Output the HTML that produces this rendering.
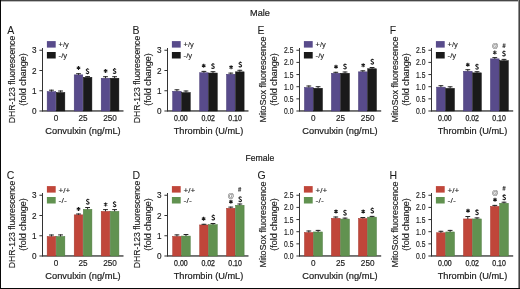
<!DOCTYPE html>
<html><head><meta charset="utf-8"><style>
html,body{margin:0;padding:0;background:#fff;}
body{width:520px;height:289px;overflow:hidden;}
svg{display:block;}
#w{width:520px;height:289px;will-change:transform;}
text{font-family:"Liberation Sans", sans-serif;fill:#1a1a1a;stroke:#1a1a1a;stroke-width:0.2px;}
</style></head><body><div id="w">
<svg width="520" height="289" viewBox="0 0 520 289">
<rect x="0" y="0" width="520" height="289" fill="#fff"/>
<text x="260" y="15.7" font-size="9.8" text-anchor="middle" textLength="19.8" lengthAdjust="spacingAndGlyphs">Male</text>
<text x="259.9" y="160.7" font-size="9.8" text-anchor="middle" textLength="28.8" lengthAdjust="spacingAndGlyphs">Female</text>
<text x="7.2" y="33.6" font-size="10.5" text-anchor="start" style="stroke-width:0.05px">A</text>
<text transform="translate(15.3,79.5) rotate(-90)" font-size="9" text-anchor="middle" textLength="87.5" lengthAdjust="spacingAndGlyphs" style="stroke-width:0.14px">DHR-123 fluorescence</text>
<text transform="translate(26.0,79.5) rotate(-90)" font-size="9" text-anchor="middle" textLength="52.5" lengthAdjust="spacingAndGlyphs" style="stroke-width:0.14px">(fold change)</text>
<rect x="42" y="48" width="1" height="63.5" fill="#333"/>
<rect x="42" y="110.3" width="81.5" height="1.3" fill="#333"/>
<rect x="39.4" y="110.5" width="2.6" height="1" fill="#333"/>
<text x="36.5" y="114.0" font-size="8.2" text-anchor="end"  style="stroke-width:0.15px">0</text>
<rect x="39.4" y="90.25" width="2.6" height="1" fill="#333"/>
<text x="36.5" y="93.75" font-size="8.2" text-anchor="end"  style="stroke-width:0.15px">1</text>
<rect x="39.4" y="70.0" width="2.6" height="1" fill="#333"/>
<text x="36.5" y="73.5" font-size="8.2" text-anchor="end"  style="stroke-width:0.15px">2</text>
<rect x="39.4" y="49.75" width="2.6" height="1" fill="#333"/>
<text x="36.5" y="53.25" font-size="8.2" text-anchor="end"  style="stroke-width:0.15px">3</text>
<text x="56.0" y="121.0" font-size="8.2" text-anchor="middle" style="stroke-width:0.15px">0</text>
<text x="83.0" y="121.0" font-size="8.2" text-anchor="middle" style="stroke-width:0.15px">25</text>
<text x="110.1" y="121.0" font-size="8.2" text-anchor="middle" style="stroke-width:0.15px">250</text>
<text x="83" y="134.2" font-size="9.6" text-anchor="middle" textLength="75.3" lengthAdjust="spacingAndGlyphs">Convulxin (ng/mL)</text>
<rect x="46.9" y="41.1" width="8.8" height="6.5" fill="#584b8b"/>
<rect x="46.9" y="52" width="8.8" height="6.5" fill="#1a1a1a"/>
<text x="58.6" y="47.4" font-size="8" text-anchor="start" textLength="10.2" lengthAdjust="spacingAndGlyphs" style="stroke-width:0.1px">+/y</text>
<text x="58.6" y="57.6" font-size="8" text-anchor="start" textLength="8.6" lengthAdjust="spacingAndGlyphs" style="stroke-width:0.1px">-/y</text>
<rect x="47.15" y="91.65" width="8.6" height="19.349999999999994" fill="#584b8b" stroke="#463a74" stroke-width="0.5"/>
<rect x="56.25" y="92.55" width="8.6" height="18.450000000000003" fill="#1a1a1a" stroke="#111" stroke-width="0.5"/>
<rect x="50.949999999999996" y="89.7" width="1" height="1.9500000000000028" fill="#262626"/>
<rect x="49.05" y="89.7" width="4.8" height="1" fill="#262626"/>
<rect x="60.05" y="90.5" width="1" height="2.049999999999997" fill="#262626"/>
<rect x="58.15" y="90.5" width="4.8" height="1" fill="#262626"/>
<rect x="74.2" y="74.85" width="8.6" height="36.150000000000006" fill="#584b8b" stroke="#463a74" stroke-width="0.5"/>
<rect x="83.3" y="77.35" width="8.6" height="33.650000000000006" fill="#1a1a1a" stroke="#111" stroke-width="0.5"/>
<rect x="78.0" y="73.2" width="1" height="1.6499999999999915" fill="#262626"/>
<rect x="76.1" y="73.2" width="4.8" height="1" fill="#262626"/>
<rect x="87.1" y="76.1" width="1" height="1.25" fill="#262626"/>
<rect x="85.19999999999999" y="76.1" width="4.8" height="1" fill="#262626"/>
<rect x="101.2" y="78.25" width="8.6" height="32.75" fill="#584b8b" stroke="#463a74" stroke-width="0.5"/>
<rect x="110.3" y="78.25" width="8.6" height="32.75" fill="#1a1a1a" stroke="#111" stroke-width="0.5"/>
<rect x="105.0" y="76.2" width="1" height="2.049999999999997" fill="#262626"/>
<rect x="103.1" y="76.2" width="4.8" height="1" fill="#262626"/>
<rect x="114.1" y="76.2" width="1" height="2.049999999999997" fill="#262626"/>
<rect x="112.19999999999999" y="76.2" width="4.8" height="1" fill="#262626"/>
<path transform="translate(78.5,67.9)" d="M0,-2V2M-1.75,-1L1.75,1M1.75,-1L-1.75,1" stroke="#1a1a1a" stroke-width="1.05" fill="none"/>
<path transform="translate(86.0,68.60000000000001)" d="M2.9,1.0C2.5,0.2 0.2,0.1 0.2,1.4C0.2,2.6 2.8,2.5 2.8,3.8C2.8,5.2 0.4,5.1 0,4.2M1.5,-0.4V0.4M1.5,4.8V5.6" stroke="#1a1a1a" stroke-width="1.05" fill="none"/>
<path transform="translate(105.6,71.0)" d="M0,-2V2M-1.75,-1L1.75,1M1.75,-1L-1.75,1" stroke="#1a1a1a" stroke-width="1.05" fill="none"/>
<path transform="translate(113.1,68.5)" d="M2.9,1.0C2.5,0.2 0.2,0.1 0.2,1.4C0.2,2.6 2.8,2.5 2.8,3.8C2.8,5.2 0.4,5.1 0,4.2M1.5,-0.4V0.4M1.5,4.8V5.6" stroke="#1a1a1a" stroke-width="1.05" fill="none"/>
<text x="132.4" y="33.6" font-size="10.5" text-anchor="start" style="stroke-width:0.05px">B</text>
<text transform="translate(140.3,79.5) rotate(-90)" font-size="9" text-anchor="middle" textLength="87.5" lengthAdjust="spacingAndGlyphs" style="stroke-width:0.14px">DHR-123 fluorescence</text>
<text transform="translate(151.0,79.5) rotate(-90)" font-size="9" text-anchor="middle" textLength="52.5" lengthAdjust="spacingAndGlyphs" style="stroke-width:0.14px">(fold change)</text>
<rect x="167" y="48" width="1" height="63.5" fill="#333"/>
<rect x="167" y="110.3" width="81.5" height="1.3" fill="#333"/>
<rect x="164.4" y="110.5" width="2.6" height="1" fill="#333"/>
<text x="161.5" y="114.0" font-size="8.2" text-anchor="end"  style="stroke-width:0.15px">0</text>
<rect x="164.4" y="90.25" width="2.6" height="1" fill="#333"/>
<text x="161.5" y="93.75" font-size="8.2" text-anchor="end"  style="stroke-width:0.15px">1</text>
<rect x="164.4" y="70.0" width="2.6" height="1" fill="#333"/>
<text x="161.5" y="73.5" font-size="8.2" text-anchor="end"  style="stroke-width:0.15px">2</text>
<rect x="164.4" y="49.75" width="2.6" height="1" fill="#333"/>
<text x="161.5" y="53.25" font-size="8.2" text-anchor="end"  style="stroke-width:0.15px">3</text>
<text x="180.9" y="121.0" font-size="8.2" text-anchor="middle" textLength="13.6" lengthAdjust="spacingAndGlyphs" style="stroke-width:0.25px">0.00</text>
<text x="208.2" y="121.0" font-size="8.2" text-anchor="middle" textLength="13.6" lengthAdjust="spacingAndGlyphs" style="stroke-width:0.25px">0.02</text>
<text x="235.1" y="121.0" font-size="8.2" text-anchor="middle" textLength="13.6" lengthAdjust="spacingAndGlyphs" style="stroke-width:0.25px">0.10</text>
<text x="208.5" y="134.2" font-size="9.6" text-anchor="middle" textLength="69.5" lengthAdjust="spacingAndGlyphs">Thrombin (U/mL)</text>
<rect x="171.9" y="41.1" width="8.8" height="6.5" fill="#584b8b"/>
<rect x="171.9" y="52" width="8.8" height="6.5" fill="#1a1a1a"/>
<text x="183.6" y="47.4" font-size="8" text-anchor="start" textLength="10.2" lengthAdjust="spacingAndGlyphs" style="stroke-width:0.1px">+/y</text>
<text x="183.6" y="57.6" font-size="8" text-anchor="start" textLength="8.6" lengthAdjust="spacingAndGlyphs" style="stroke-width:0.1px">-/y</text>
<rect x="172.65" y="91.25" width="8.55" height="19.75" fill="#584b8b" stroke="#463a74" stroke-width="0.5"/>
<rect x="181.7" y="92.55" width="8.55" height="18.450000000000003" fill="#1a1a1a" stroke="#111" stroke-width="0.5"/>
<rect x="176.425" y="89.3" width="1" height="1.9500000000000028" fill="#262626"/>
<rect x="174.525" y="89.3" width="4.8" height="1" fill="#262626"/>
<rect x="185.475" y="90.5" width="1" height="2.049999999999997" fill="#262626"/>
<rect x="183.575" y="90.5" width="4.8" height="1" fill="#262626"/>
<rect x="199.65" y="72.75" width="8.55" height="38.25" fill="#584b8b" stroke="#463a74" stroke-width="0.5"/>
<rect x="208.7" y="73.05" width="8.55" height="37.95" fill="#1a1a1a" stroke="#111" stroke-width="0.5"/>
<rect x="203.425" y="70.89999999999999" width="1" height="1.8500000000000085" fill="#262626"/>
<rect x="201.525" y="70.89999999999999" width="4.8" height="1" fill="#262626"/>
<rect x="212.475" y="71.2" width="1" height="1.8499999999999943" fill="#262626"/>
<rect x="210.575" y="71.2" width="4.8" height="1" fill="#262626"/>
<rect x="226.5" y="74.25" width="8.55" height="36.75" fill="#584b8b" stroke="#463a74" stroke-width="0.5"/>
<rect x="235.55" y="71.85" width="8.55" height="39.150000000000006" fill="#1a1a1a" stroke="#111" stroke-width="0.5"/>
<rect x="230.275" y="72.6" width="1" height="1.6500000000000057" fill="#262626"/>
<rect x="228.375" y="72.6" width="4.8" height="1" fill="#262626"/>
<rect x="239.32500000000002" y="69.8" width="1" height="2.049999999999997" fill="#262626"/>
<rect x="237.425" y="69.8" width="4.8" height="1" fill="#262626"/>
<path transform="translate(203.7,65.7)" d="M0,-2V2M-1.75,-1L1.75,1M1.75,-1L-1.75,1" stroke="#1a1a1a" stroke-width="1.05" fill="none"/>
<path transform="translate(211.5,63.49999999999999)" d="M2.9,1.0C2.5,0.2 0.2,0.1 0.2,1.4C0.2,2.6 2.8,2.5 2.8,3.8C2.8,5.2 0.4,5.1 0,4.2M1.5,-0.4V0.4M1.5,4.8V5.6" stroke="#1a1a1a" stroke-width="1.05" fill="none"/>
<path transform="translate(231.1,67.3)" d="M0,-2V2M-1.75,-1L1.75,1M1.75,-1L-1.75,1" stroke="#1a1a1a" stroke-width="1.05" fill="none"/>
<path transform="translate(238.8,61.99999999999999)" d="M2.9,1.0C2.5,0.2 0.2,0.1 0.2,1.4C0.2,2.6 2.8,2.5 2.8,3.8C2.8,5.2 0.4,5.1 0,4.2M1.5,-0.4V0.4M1.5,4.8V5.6" stroke="#1a1a1a" stroke-width="1.05" fill="none"/>
<text x="257.4" y="33.6" font-size="10.5" text-anchor="start" style="stroke-width:0.05px">E</text>
<text transform="translate(266.4,79.5) rotate(-90)" font-size="9" text-anchor="middle" textLength="85.8" lengthAdjust="spacingAndGlyphs" style="stroke-width:0.14px">MitoSox fluorescence</text>
<text transform="translate(276.9,79.5) rotate(-90)" font-size="9" text-anchor="middle" textLength="52.5" lengthAdjust="spacingAndGlyphs" style="stroke-width:0.14px">(fold change)</text>
<rect x="299" y="48" width="1" height="63.5" fill="#333"/>
<rect x="299" y="110.3" width="82.2" height="1.3" fill="#333"/>
<rect x="296.4" y="110.5" width="2.6" height="1" fill="#333"/>
<text x="293.5" y="114.0" font-size="8.2" text-anchor="end" textLength="9.4" lengthAdjust="spacingAndGlyphs" style="stroke-width:0.15px">0.0</text>
<rect x="296.4" y="98.35" width="2.6" height="1" fill="#333"/>
<text x="293.5" y="101.85" font-size="8.2" text-anchor="end" textLength="9.4" lengthAdjust="spacingAndGlyphs" style="stroke-width:0.15px">0.5</text>
<rect x="296.4" y="86.2" width="2.6" height="1" fill="#333"/>
<text x="293.5" y="89.7" font-size="8.2" text-anchor="end" textLength="9.4" lengthAdjust="spacingAndGlyphs" style="stroke-width:0.15px">1.0</text>
<rect x="296.4" y="74.05" width="2.6" height="1" fill="#333"/>
<text x="293.5" y="77.55" font-size="8.2" text-anchor="end" textLength="9.4" lengthAdjust="spacingAndGlyphs" style="stroke-width:0.15px">1.5</text>
<rect x="296.4" y="61.9" width="2.6" height="1" fill="#333"/>
<text x="293.5" y="65.4" font-size="8.2" text-anchor="end" textLength="9.4" lengthAdjust="spacingAndGlyphs" style="stroke-width:0.15px">2.0</text>
<rect x="296.4" y="49.75" width="2.6" height="1" fill="#333"/>
<text x="293.5" y="53.25" font-size="8.2" text-anchor="end" textLength="9.4" lengthAdjust="spacingAndGlyphs" style="stroke-width:0.15px">2.5</text>
<text x="313.3" y="121.0" font-size="8.2" text-anchor="middle" style="stroke-width:0.15px">0</text>
<text x="340.6" y="121.0" font-size="8.2" text-anchor="middle" style="stroke-width:0.15px">25</text>
<text x="367.7" y="121.0" font-size="8.2" text-anchor="middle" style="stroke-width:0.15px">250</text>
<text x="340" y="134.2" font-size="9.6" text-anchor="middle" textLength="75.3" lengthAdjust="spacingAndGlyphs">Convulxin (ng/mL)</text>
<rect x="303.9" y="41.1" width="8.8" height="6.5" fill="#584b8b"/>
<rect x="303.9" y="52" width="8.8" height="6.5" fill="#1a1a1a"/>
<text x="315.6" y="47.4" font-size="8" text-anchor="start" textLength="10.2" lengthAdjust="spacingAndGlyphs" style="stroke-width:0.1px">+/y</text>
<text x="315.6" y="57.6" font-size="8" text-anchor="start" textLength="8.6" lengthAdjust="spacingAndGlyphs" style="stroke-width:0.1px">-/y</text>
<rect x="304.45" y="87.45" width="8.75" height="23.549999999999997" fill="#584b8b" stroke="#463a74" stroke-width="0.5"/>
<rect x="313.7" y="88.25" width="8.75" height="22.75" fill="#1a1a1a" stroke="#111" stroke-width="0.5"/>
<rect x="308.325" y="85.5" width="1" height="1.9500000000000028" fill="#262626"/>
<rect x="306.425" y="85.5" width="4.8" height="1" fill="#262626"/>
<rect x="317.575" y="86.2" width="1" height="2.049999999999997" fill="#262626"/>
<rect x="315.675" y="86.2" width="4.8" height="1" fill="#262626"/>
<rect x="331.4" y="73.25" width="8.75" height="37.75" fill="#584b8b" stroke="#463a74" stroke-width="0.5"/>
<rect x="340.65" y="73.25" width="8.75" height="37.75" fill="#1a1a1a" stroke="#111" stroke-width="0.5"/>
<rect x="335.275" y="71.8" width="1" height="1.4500000000000028" fill="#262626"/>
<rect x="333.375" y="71.8" width="4.8" height="1" fill="#262626"/>
<rect x="344.525" y="71.5" width="1" height="1.75" fill="#262626"/>
<rect x="342.625" y="71.5" width="4.8" height="1" fill="#262626"/>
<rect x="358.45" y="71.85" width="8.75" height="39.150000000000006" fill="#584b8b" stroke="#463a74" stroke-width="0.5"/>
<rect x="367.7" y="68.75" width="8.75" height="42.25" fill="#1a1a1a" stroke="#111" stroke-width="0.5"/>
<rect x="362.325" y="70.3" width="1" height="1.5499999999999972" fill="#262626"/>
<rect x="360.425" y="70.3" width="4.8" height="1" fill="#262626"/>
<rect x="371.575" y="67.0" width="1" height="1.75" fill="#262626"/>
<rect x="369.675" y="67.0" width="4.8" height="1" fill="#262626"/>
<path transform="translate(336.0,66.8)" d="M0,-2V2M-1.75,-1L1.75,1M1.75,-1L-1.75,1" stroke="#1a1a1a" stroke-width="1.05" fill="none"/>
<path transform="translate(343.5,63.9)" d="M2.9,1.0C2.5,0.2 0.2,0.1 0.2,1.4C0.2,2.6 2.8,2.5 2.8,3.8C2.8,5.2 0.4,5.1 0,4.2M1.5,-0.4V0.4M1.5,4.8V5.6" stroke="#1a1a1a" stroke-width="1.05" fill="none"/>
<path transform="translate(363.2,65.2)" d="M0,-2V2M-1.75,-1L1.75,1M1.75,-1L-1.75,1" stroke="#1a1a1a" stroke-width="1.05" fill="none"/>
<path transform="translate(370.8,59.1)" d="M2.9,1.0C2.5,0.2 0.2,0.1 0.2,1.4C0.2,2.6 2.8,2.5 2.8,3.8C2.8,5.2 0.4,5.1 0,4.2M1.5,-0.4V0.4M1.5,4.8V5.6" stroke="#1a1a1a" stroke-width="1.05" fill="none"/>
<text x="389.8" y="33.6" font-size="10.5" text-anchor="start" style="stroke-width:0.05px">F</text>
<text transform="translate(398.4,79.5) rotate(-90)" font-size="9" text-anchor="middle" textLength="85.8" lengthAdjust="spacingAndGlyphs" style="stroke-width:0.14px">MitoSox fluorescence</text>
<text transform="translate(408.9,79.5) rotate(-90)" font-size="9" text-anchor="middle" textLength="52.5" lengthAdjust="spacingAndGlyphs" style="stroke-width:0.14px">(fold change)</text>
<rect x="431" y="48" width="1" height="63.5" fill="#333"/>
<rect x="431" y="110.3" width="82.2" height="1.3" fill="#333"/>
<rect x="428.4" y="110.5" width="2.6" height="1" fill="#333"/>
<text x="425.5" y="114.0" font-size="8.2" text-anchor="end" textLength="9.4" lengthAdjust="spacingAndGlyphs" style="stroke-width:0.15px">0.0</text>
<rect x="428.4" y="98.35" width="2.6" height="1" fill="#333"/>
<text x="425.5" y="101.85" font-size="8.2" text-anchor="end" textLength="9.4" lengthAdjust="spacingAndGlyphs" style="stroke-width:0.15px">0.5</text>
<rect x="428.4" y="86.2" width="2.6" height="1" fill="#333"/>
<text x="425.5" y="89.7" font-size="8.2" text-anchor="end" textLength="9.4" lengthAdjust="spacingAndGlyphs" style="stroke-width:0.15px">1.0</text>
<rect x="428.4" y="74.05" width="2.6" height="1" fill="#333"/>
<text x="425.5" y="77.55" font-size="8.2" text-anchor="end" textLength="9.4" lengthAdjust="spacingAndGlyphs" style="stroke-width:0.15px">1.5</text>
<rect x="428.4" y="61.9" width="2.6" height="1" fill="#333"/>
<text x="425.5" y="65.4" font-size="8.2" text-anchor="end" textLength="9.4" lengthAdjust="spacingAndGlyphs" style="stroke-width:0.15px">2.0</text>
<rect x="428.4" y="49.75" width="2.6" height="1" fill="#333"/>
<text x="425.5" y="53.25" font-size="8.2" text-anchor="end" textLength="9.4" lengthAdjust="spacingAndGlyphs" style="stroke-width:0.15px">2.5</text>
<text x="444.9" y="121.0" font-size="8.2" text-anchor="middle" textLength="13.6" lengthAdjust="spacingAndGlyphs" style="stroke-width:0.25px">0.00</text>
<text x="472.2" y="121.0" font-size="8.2" text-anchor="middle" textLength="13.6" lengthAdjust="spacingAndGlyphs" style="stroke-width:0.25px">0.02</text>
<text x="499.1" y="121.0" font-size="8.2" text-anchor="middle" textLength="13.6" lengthAdjust="spacingAndGlyphs" style="stroke-width:0.25px">0.10</text>
<text x="472.5" y="134.2" font-size="9.6" text-anchor="middle" textLength="69.5" lengthAdjust="spacingAndGlyphs">Thrombin (U/mL)</text>
<rect x="435.9" y="41.1" width="8.8" height="6.5" fill="#584b8b"/>
<rect x="435.9" y="52" width="8.8" height="6.5" fill="#1a1a1a"/>
<text x="447.6" y="47.4" font-size="8" text-anchor="start" textLength="10.2" lengthAdjust="spacingAndGlyphs" style="stroke-width:0.1px">+/y</text>
<text x="447.6" y="57.6" font-size="8" text-anchor="start" textLength="8.6" lengthAdjust="spacingAndGlyphs" style="stroke-width:0.1px">-/y</text>
<rect x="436.55" y="87.15" width="8.7" height="23.849999999999994" fill="#584b8b" stroke="#463a74" stroke-width="0.5"/>
<rect x="445.75" y="88.35" width="8.7" height="22.650000000000006" fill="#1a1a1a" stroke="#111" stroke-width="0.5"/>
<rect x="440.40000000000003" y="85.2" width="1" height="1.9500000000000028" fill="#262626"/>
<rect x="438.50000000000006" y="85.2" width="4.8" height="1" fill="#262626"/>
<rect x="449.6" y="86.3" width="1" height="2.049999999999997" fill="#262626"/>
<rect x="447.70000000000005" y="86.3" width="4.8" height="1" fill="#262626"/>
<rect x="463.45" y="71.25" width="8.7" height="39.75" fill="#584b8b" stroke="#463a74" stroke-width="0.5"/>
<rect x="472.65" y="72.85" width="8.7" height="38.150000000000006" fill="#1a1a1a" stroke="#111" stroke-width="0.5"/>
<rect x="467.3" y="69.2" width="1" height="2.049999999999997" fill="#262626"/>
<rect x="465.40000000000003" y="69.2" width="4.8" height="1" fill="#262626"/>
<rect x="476.5" y="71.2" width="1" height="1.6499999999999915" fill="#262626"/>
<rect x="474.6" y="71.2" width="4.8" height="1" fill="#262626"/>
<rect x="490.45" y="58.85" width="8.7" height="52.15" fill="#584b8b" stroke="#463a74" stroke-width="0.5"/>
<rect x="499.65" y="60.65" width="8.7" height="50.35" fill="#1a1a1a" stroke="#111" stroke-width="0.5"/>
<rect x="494.3" y="57.099999999999994" width="1" height="1.750000000000007" fill="#262626"/>
<rect x="492.40000000000003" y="57.099999999999994" width="4.8" height="1" fill="#262626"/>
<rect x="503.5" y="58.9" width="1" height="1.75" fill="#262626"/>
<rect x="501.6" y="58.9" width="4.8" height="1" fill="#262626"/>
<path transform="translate(467.8,64.8)" d="M0,-2V2M-1.75,-1L1.75,1M1.75,-1L-1.75,1" stroke="#1a1a1a" stroke-width="1.05" fill="none"/>
<path transform="translate(475.5,64.2)" d="M2.9,1.0C2.5,0.2 0.2,0.1 0.2,1.4C0.2,2.6 2.8,2.5 2.8,3.8C2.8,5.2 0.4,5.1 0,4.2M1.5,-0.4V0.4M1.5,4.8V5.6" stroke="#1a1a1a" stroke-width="1.05" fill="none"/>
<path transform="translate(494.8,52.6)" d="M0,-2V2M-1.75,-1L1.75,1M1.75,-1L-1.75,1" stroke="#1a1a1a" stroke-width="1.05" fill="none"/>
<text x="495.0" y="48.0" font-size="6.6" text-anchor="middle" style="fill:#808080;stroke:#808080;stroke-width:0.15px">@</text>
<path transform="translate(502.5,51.0)" d="M2.9,1.0C2.5,0.2 0.2,0.1 0.2,1.4C0.2,2.6 2.8,2.5 2.8,3.8C2.8,5.2 0.4,5.1 0,4.2M1.5,-0.4V0.4M1.5,4.8V5.6" stroke="#1a1a1a" stroke-width="1.05" fill="none"/>
<path transform="translate(502.4,43.4)" d="M1.25,0L0.75,4.6M2.55,0L2.05,4.6M0.2,1.55H3.3M0,3.1H3.1" stroke="#222" stroke-width="0.6" fill="none"/>
<text x="6.8" y="178.6" font-size="10.5" text-anchor="start" style="stroke-width:0.05px">C</text>
<text transform="translate(15.3,224.5) rotate(-90)" font-size="9" text-anchor="middle" textLength="87.5" lengthAdjust="spacingAndGlyphs" style="stroke-width:0.14px">DHR-123 fluorescence</text>
<text transform="translate(26.0,224.5) rotate(-90)" font-size="9" text-anchor="middle" textLength="52.5" lengthAdjust="spacingAndGlyphs" style="stroke-width:0.14px">(fold change)</text>
<rect x="42" y="193" width="1" height="63.5" fill="#333"/>
<rect x="42" y="255.3" width="81.5" height="1.3" fill="#333"/>
<rect x="39.4" y="255.5" width="2.6" height="1" fill="#333"/>
<text x="36.5" y="259.0" font-size="8.2" text-anchor="end"  style="stroke-width:0.15px">0</text>
<rect x="39.4" y="235.25" width="2.6" height="1" fill="#333"/>
<text x="36.5" y="238.75" font-size="8.2" text-anchor="end"  style="stroke-width:0.15px">1</text>
<rect x="39.4" y="215.0" width="2.6" height="1" fill="#333"/>
<text x="36.5" y="218.5" font-size="8.2" text-anchor="end"  style="stroke-width:0.15px">2</text>
<rect x="39.4" y="194.75" width="2.6" height="1" fill="#333"/>
<text x="36.5" y="198.25" font-size="8.2" text-anchor="end"  style="stroke-width:0.15px">3</text>
<text x="56.0" y="265.8" font-size="8.2" text-anchor="middle" style="stroke-width:0.15px">0</text>
<text x="83.0" y="265.8" font-size="8.2" text-anchor="middle" style="stroke-width:0.15px">25</text>
<text x="110.1" y="265.8" font-size="8.2" text-anchor="middle" style="stroke-width:0.15px">250</text>
<text x="83" y="278.9" font-size="9.6" text-anchor="middle" textLength="75.3" lengthAdjust="spacingAndGlyphs">Convulxin (ng/mL)</text>
<rect x="46.9" y="186.1" width="8.8" height="6.5" fill="#c0463a"/>
<rect x="46.9" y="197" width="8.8" height="6.5" fill="#619250"/>
<text x="58.6" y="192.8" font-size="8" text-anchor="start" textLength="11.8" lengthAdjust="spacingAndGlyphs" style="stroke-width:0.1px">+/+</text>
<text x="58.6" y="202.6" font-size="8" text-anchor="start" textLength="8.2" lengthAdjust="spacingAndGlyphs" style="stroke-width:0.1px">-/-</text>
<rect x="47.15" y="236.45" width="8.6" height="19.55000000000001" fill="#c0463a" stroke="#a53a30" stroke-width="0.5"/>
<rect x="56.25" y="236.45" width="8.6" height="19.55000000000001" fill="#619250" stroke="#4d7a3e" stroke-width="0.5"/>
<rect x="50.949999999999996" y="234.5" width="1" height="1.9499999999999886" fill="#262626"/>
<rect x="49.05" y="234.5" width="4.8" height="1" fill="#262626"/>
<rect x="60.05" y="234.4" width="1" height="2.049999999999983" fill="#262626"/>
<rect x="58.15" y="234.4" width="4.8" height="1" fill="#262626"/>
<rect x="74.2" y="214.85" width="8.6" height="41.150000000000006" fill="#c0463a" stroke="#a53a30" stroke-width="0.5"/>
<rect x="83.3" y="209.35" width="8.6" height="46.650000000000006" fill="#619250" stroke="#4d7a3e" stroke-width="0.5"/>
<rect x="78.0" y="213.5" width="1" height="1.3499999999999943" fill="#262626"/>
<rect x="76.1" y="213.5" width="4.8" height="1" fill="#262626"/>
<rect x="87.1" y="207.0" width="1" height="2.3499999999999943" fill="#262626"/>
<rect x="85.19999999999999" y="207.0" width="4.8" height="1" fill="#262626"/>
<rect x="101.2" y="211.35" width="8.6" height="44.650000000000006" fill="#c0463a" stroke="#a53a30" stroke-width="0.5"/>
<rect x="110.3" y="211.35" width="8.6" height="44.650000000000006" fill="#619250" stroke="#4d7a3e" stroke-width="0.5"/>
<rect x="105.0" y="209.10000000000002" width="1" height="2.2499999999999716" fill="#262626"/>
<rect x="103.1" y="209.10000000000002" width="4.8" height="1" fill="#262626"/>
<rect x="114.1" y="209.10000000000002" width="1" height="2.2499999999999716" fill="#262626"/>
<rect x="112.19999999999999" y="209.10000000000002" width="4.8" height="1" fill="#262626"/>
<path transform="translate(78.5,209.0)" d="M0,-2V2M-1.75,-1L1.75,1M1.75,-1L-1.75,1" stroke="#1a1a1a" stroke-width="1.05" fill="none"/>
<path transform="translate(86.3,199.1)" d="M2.9,1.0C2.5,0.2 0.2,0.1 0.2,1.4C0.2,2.6 2.8,2.5 2.8,3.8C2.8,5.2 0.4,5.1 0,4.2M1.5,-0.4V0.4M1.5,4.8V5.6" stroke="#1a1a1a" stroke-width="1.05" fill="none"/>
<path transform="translate(105.6,204.4)" d="M0,-2V2M-1.75,-1L1.75,1M1.75,-1L-1.75,1" stroke="#1a1a1a" stroke-width="1.05" fill="none"/>
<path transform="translate(113.1,201.6)" d="M2.9,1.0C2.5,0.2 0.2,0.1 0.2,1.4C0.2,2.6 2.8,2.5 2.8,3.8C2.8,5.2 0.4,5.1 0,4.2M1.5,-0.4V0.4M1.5,4.8V5.6" stroke="#1a1a1a" stroke-width="1.05" fill="none"/>
<text x="132.4" y="178.6" font-size="10.5" text-anchor="start" style="stroke-width:0.05px">D</text>
<text transform="translate(140.3,224.5) rotate(-90)" font-size="9" text-anchor="middle" textLength="87.5" lengthAdjust="spacingAndGlyphs" style="stroke-width:0.14px">DHR-123 fluorescence</text>
<text transform="translate(151.0,224.5) rotate(-90)" font-size="9" text-anchor="middle" textLength="52.5" lengthAdjust="spacingAndGlyphs" style="stroke-width:0.14px">(fold change)</text>
<rect x="167" y="193" width="1" height="63.5" fill="#333"/>
<rect x="167" y="255.3" width="81.5" height="1.3" fill="#333"/>
<rect x="164.4" y="255.5" width="2.6" height="1" fill="#333"/>
<text x="161.5" y="259.0" font-size="8.2" text-anchor="end"  style="stroke-width:0.15px">0</text>
<rect x="164.4" y="235.25" width="2.6" height="1" fill="#333"/>
<text x="161.5" y="238.75" font-size="8.2" text-anchor="end"  style="stroke-width:0.15px">1</text>
<rect x="164.4" y="215.0" width="2.6" height="1" fill="#333"/>
<text x="161.5" y="218.5" font-size="8.2" text-anchor="end"  style="stroke-width:0.15px">2</text>
<rect x="164.4" y="194.75" width="2.6" height="1" fill="#333"/>
<text x="161.5" y="198.25" font-size="8.2" text-anchor="end"  style="stroke-width:0.15px">3</text>
<text x="180.9" y="265.8" font-size="8.2" text-anchor="middle" textLength="13.6" lengthAdjust="spacingAndGlyphs" style="stroke-width:0.25px">0.00</text>
<text x="208.2" y="265.8" font-size="8.2" text-anchor="middle" textLength="13.6" lengthAdjust="spacingAndGlyphs" style="stroke-width:0.25px">0.02</text>
<text x="235.1" y="265.8" font-size="8.2" text-anchor="middle" textLength="13.6" lengthAdjust="spacingAndGlyphs" style="stroke-width:0.25px">0.10</text>
<text x="208.5" y="278.9" font-size="9.6" text-anchor="middle" textLength="69.5" lengthAdjust="spacingAndGlyphs">Thrombin (U/mL)</text>
<rect x="171.9" y="186.1" width="8.8" height="6.5" fill="#c0463a"/>
<rect x="171.9" y="197" width="8.8" height="6.5" fill="#619250"/>
<text x="183.6" y="192.8" font-size="8" text-anchor="start" textLength="11.8" lengthAdjust="spacingAndGlyphs" style="stroke-width:0.1px">+/+</text>
<text x="183.6" y="202.6" font-size="8" text-anchor="start" textLength="8.2" lengthAdjust="spacingAndGlyphs" style="stroke-width:0.1px">-/-</text>
<rect x="172.65" y="236.35" width="8.55" height="19.650000000000006" fill="#c0463a" stroke="#a53a30" stroke-width="0.5"/>
<rect x="181.7" y="236.05" width="8.55" height="19.94999999999999" fill="#619250" stroke="#4d7a3e" stroke-width="0.5"/>
<rect x="176.425" y="234.4" width="1" height="1.9499999999999886" fill="#262626"/>
<rect x="174.525" y="234.4" width="4.8" height="1" fill="#262626"/>
<rect x="185.475" y="234.0" width="1" height="2.0500000000000114" fill="#262626"/>
<rect x="183.575" y="234.0" width="4.8" height="1" fill="#262626"/>
<rect x="199.65" y="224.95" width="8.55" height="31.05000000000001" fill="#c0463a" stroke="#a53a30" stroke-width="0.5"/>
<rect x="208.7" y="224.65" width="8.55" height="31.349999999999994" fill="#619250" stroke="#4d7a3e" stroke-width="0.5"/>
<rect x="203.425" y="223.8" width="1" height="1.1499999999999773" fill="#262626"/>
<rect x="201.525" y="223.8" width="4.8" height="1" fill="#262626"/>
<rect x="212.475" y="223.0" width="1" height="1.6500000000000057" fill="#262626"/>
<rect x="210.575" y="223.0" width="4.8" height="1" fill="#262626"/>
<rect x="226.5" y="208.25" width="8.55" height="47.75" fill="#c0463a" stroke="#a53a30" stroke-width="0.5"/>
<rect x="235.55" y="205.25" width="8.55" height="50.75" fill="#619250" stroke="#4d7a3e" stroke-width="0.5"/>
<rect x="230.275" y="206.60000000000002" width="1" height="1.6499999999999773" fill="#262626"/>
<rect x="228.375" y="206.60000000000002" width="4.8" height="1" fill="#262626"/>
<rect x="239.32500000000002" y="203.5" width="1" height="1.75" fill="#262626"/>
<rect x="237.425" y="203.5" width="4.8" height="1" fill="#262626"/>
<path transform="translate(203.6,218.8)" d="M0,-2V2M-1.75,-1L1.75,1M1.75,-1L-1.75,1" stroke="#1a1a1a" stroke-width="1.05" fill="none"/>
<path transform="translate(211.8,215.0)" d="M2.9,1.0C2.5,0.2 0.2,0.1 0.2,1.4C0.2,2.6 2.8,2.5 2.8,3.8C2.8,5.2 0.4,5.1 0,4.2M1.5,-0.4V0.4M1.5,4.8V5.6" stroke="#1a1a1a" stroke-width="1.05" fill="none"/>
<path transform="translate(230.9,201.8)" d="M0,-2V2M-1.75,-1L1.75,1M1.75,-1L-1.75,1" stroke="#1a1a1a" stroke-width="1.05" fill="none"/>
<text x="230.8" y="197.70000000000002" font-size="6.6" text-anchor="middle" style="fill:#808080;stroke:#808080;stroke-width:0.15px">@</text>
<path transform="translate(238.7,196.6)" d="M2.9,1.0C2.5,0.2 0.2,0.1 0.2,1.4C0.2,2.6 2.8,2.5 2.8,3.8C2.8,5.2 0.4,5.1 0,4.2M1.5,-0.4V0.4M1.5,4.8V5.6" stroke="#1a1a1a" stroke-width="1.05" fill="none"/>
<path transform="translate(238.0,187.1)" d="M1.25,0L0.75,4.6M2.55,0L2.05,4.6M0.2,1.55H3.3M0,3.1H3.1" stroke="#222" stroke-width="0.6" fill="none"/>
<text x="257.6" y="178.6" font-size="10.5" text-anchor="start" style="stroke-width:0.05px">G</text>
<text transform="translate(266.4,224.5) rotate(-90)" font-size="9" text-anchor="middle" textLength="85.8" lengthAdjust="spacingAndGlyphs" style="stroke-width:0.14px">MitoSox fluorescence</text>
<text transform="translate(276.9,224.5) rotate(-90)" font-size="9" text-anchor="middle" textLength="52.5" lengthAdjust="spacingAndGlyphs" style="stroke-width:0.14px">(fold change)</text>
<rect x="299" y="193" width="1" height="63.5" fill="#333"/>
<rect x="299" y="255.3" width="82.2" height="1.3" fill="#333"/>
<rect x="296.4" y="255.5" width="2.6" height="1" fill="#333"/>
<text x="293.5" y="259.0" font-size="8.2" text-anchor="end" textLength="9.4" lengthAdjust="spacingAndGlyphs" style="stroke-width:0.15px">0.0</text>
<rect x="296.4" y="243.35" width="2.6" height="1" fill="#333"/>
<text x="293.5" y="246.85" font-size="8.2" text-anchor="end" textLength="9.4" lengthAdjust="spacingAndGlyphs" style="stroke-width:0.15px">0.5</text>
<rect x="296.4" y="231.2" width="2.6" height="1" fill="#333"/>
<text x="293.5" y="234.7" font-size="8.2" text-anchor="end" textLength="9.4" lengthAdjust="spacingAndGlyphs" style="stroke-width:0.15px">1.0</text>
<rect x="296.4" y="219.05" width="2.6" height="1" fill="#333"/>
<text x="293.5" y="222.55" font-size="8.2" text-anchor="end" textLength="9.4" lengthAdjust="spacingAndGlyphs" style="stroke-width:0.15px">1.5</text>
<rect x="296.4" y="206.9" width="2.6" height="1" fill="#333"/>
<text x="293.5" y="210.4" font-size="8.2" text-anchor="end" textLength="9.4" lengthAdjust="spacingAndGlyphs" style="stroke-width:0.15px">2.0</text>
<rect x="296.4" y="194.75" width="2.6" height="1" fill="#333"/>
<text x="293.5" y="198.25" font-size="8.2" text-anchor="end" textLength="9.4" lengthAdjust="spacingAndGlyphs" style="stroke-width:0.15px">2.5</text>
<text x="313.3" y="265.8" font-size="8.2" text-anchor="middle" style="stroke-width:0.15px">0</text>
<text x="340.6" y="265.8" font-size="8.2" text-anchor="middle" style="stroke-width:0.15px">25</text>
<text x="367.7" y="265.8" font-size="8.2" text-anchor="middle" style="stroke-width:0.15px">250</text>
<text x="340" y="278.9" font-size="9.6" text-anchor="middle" textLength="75.3" lengthAdjust="spacingAndGlyphs">Convulxin (ng/mL)</text>
<rect x="303.9" y="186.1" width="8.8" height="6.5" fill="#c0463a"/>
<rect x="303.9" y="197" width="8.8" height="6.5" fill="#619250"/>
<text x="315.6" y="192.8" font-size="8" text-anchor="start" textLength="11.8" lengthAdjust="spacingAndGlyphs" style="stroke-width:0.1px">+/+</text>
<text x="315.6" y="202.6" font-size="8" text-anchor="start" textLength="8.2" lengthAdjust="spacingAndGlyphs" style="stroke-width:0.1px">-/-</text>
<rect x="304.45" y="232.45" width="8.75" height="23.55000000000001" fill="#c0463a" stroke="#a53a30" stroke-width="0.5"/>
<rect x="313.7" y="231.95" width="8.75" height="24.05000000000001" fill="#619250" stroke="#4d7a3e" stroke-width="0.5"/>
<rect x="308.325" y="230.5" width="1" height="1.9499999999999886" fill="#262626"/>
<rect x="306.425" y="230.5" width="4.8" height="1" fill="#262626"/>
<rect x="317.575" y="229.9" width="1" height="2.049999999999983" fill="#262626"/>
<rect x="315.675" y="229.9" width="4.8" height="1" fill="#262626"/>
<rect x="331.4" y="218.25" width="8.75" height="37.75" fill="#c0463a" stroke="#a53a30" stroke-width="0.5"/>
<rect x="340.65" y="219.05" width="8.75" height="36.94999999999999" fill="#619250" stroke="#4d7a3e" stroke-width="0.5"/>
<rect x="335.275" y="216.5" width="1" height="1.75" fill="#262626"/>
<rect x="333.375" y="216.5" width="4.8" height="1" fill="#262626"/>
<rect x="344.525" y="217.60000000000002" width="1" height="1.4499999999999886" fill="#262626"/>
<rect x="342.625" y="217.60000000000002" width="4.8" height="1" fill="#262626"/>
<rect x="358.45" y="218.45" width="8.75" height="37.55000000000001" fill="#c0463a" stroke="#a53a30" stroke-width="0.5"/>
<rect x="367.7" y="217.15" width="8.75" height="38.849999999999994" fill="#619250" stroke="#4d7a3e" stroke-width="0.5"/>
<rect x="362.325" y="217.0" width="1" height="1.4499999999999886" fill="#262626"/>
<rect x="360.425" y="217.0" width="4.8" height="1" fill="#262626"/>
<rect x="371.575" y="215.9" width="1" height="1.25" fill="#262626"/>
<rect x="369.675" y="215.9" width="4.8" height="1" fill="#262626"/>
<path transform="translate(336.0,211.5)" d="M0,-2V2M-1.75,-1L1.75,1M1.75,-1L-1.75,1" stroke="#1a1a1a" stroke-width="1.05" fill="none"/>
<path transform="translate(343.5,210.1)" d="M2.9,1.0C2.5,0.2 0.2,0.1 0.2,1.4C0.2,2.6 2.8,2.5 2.8,3.8C2.8,5.2 0.4,5.1 0,4.2M1.5,-0.4V0.4M1.5,4.8V5.6" stroke="#1a1a1a" stroke-width="1.05" fill="none"/>
<path transform="translate(363.2,211.5)" d="M0,-2V2M-1.75,-1L1.75,1M1.75,-1L-1.75,1" stroke="#1a1a1a" stroke-width="1.05" fill="none"/>
<path transform="translate(370.8,208.0)" d="M2.9,1.0C2.5,0.2 0.2,0.1 0.2,1.4C0.2,2.6 2.8,2.5 2.8,3.8C2.8,5.2 0.4,5.1 0,4.2M1.5,-0.4V0.4M1.5,4.8V5.6" stroke="#1a1a1a" stroke-width="1.05" fill="none"/>
<text x="389.6" y="178.6" font-size="10.5" text-anchor="start" style="stroke-width:0.05px">H</text>
<text transform="translate(398.4,224.5) rotate(-90)" font-size="9" text-anchor="middle" textLength="85.8" lengthAdjust="spacingAndGlyphs" style="stroke-width:0.14px">MitoSox fluorescence</text>
<text transform="translate(408.9,224.5) rotate(-90)" font-size="9" text-anchor="middle" textLength="52.5" lengthAdjust="spacingAndGlyphs" style="stroke-width:0.14px">(fold change)</text>
<rect x="431" y="193" width="1" height="63.5" fill="#333"/>
<rect x="431" y="255.3" width="82.2" height="1.3" fill="#333"/>
<rect x="428.4" y="255.5" width="2.6" height="1" fill="#333"/>
<text x="425.5" y="259.0" font-size="8.2" text-anchor="end" textLength="9.4" lengthAdjust="spacingAndGlyphs" style="stroke-width:0.15px">0.0</text>
<rect x="428.4" y="243.35" width="2.6" height="1" fill="#333"/>
<text x="425.5" y="246.85" font-size="8.2" text-anchor="end" textLength="9.4" lengthAdjust="spacingAndGlyphs" style="stroke-width:0.15px">0.5</text>
<rect x="428.4" y="231.2" width="2.6" height="1" fill="#333"/>
<text x="425.5" y="234.7" font-size="8.2" text-anchor="end" textLength="9.4" lengthAdjust="spacingAndGlyphs" style="stroke-width:0.15px">1.0</text>
<rect x="428.4" y="219.05" width="2.6" height="1" fill="#333"/>
<text x="425.5" y="222.55" font-size="8.2" text-anchor="end" textLength="9.4" lengthAdjust="spacingAndGlyphs" style="stroke-width:0.15px">1.5</text>
<rect x="428.4" y="206.9" width="2.6" height="1" fill="#333"/>
<text x="425.5" y="210.4" font-size="8.2" text-anchor="end" textLength="9.4" lengthAdjust="spacingAndGlyphs" style="stroke-width:0.15px">2.0</text>
<rect x="428.4" y="194.75" width="2.6" height="1" fill="#333"/>
<text x="425.5" y="198.25" font-size="8.2" text-anchor="end" textLength="9.4" lengthAdjust="spacingAndGlyphs" style="stroke-width:0.15px">2.5</text>
<text x="444.9" y="265.8" font-size="8.2" text-anchor="middle" textLength="13.6" lengthAdjust="spacingAndGlyphs" style="stroke-width:0.25px">0.00</text>
<text x="472.2" y="265.8" font-size="8.2" text-anchor="middle" textLength="13.6" lengthAdjust="spacingAndGlyphs" style="stroke-width:0.25px">0.02</text>
<text x="499.1" y="265.8" font-size="8.2" text-anchor="middle" textLength="13.6" lengthAdjust="spacingAndGlyphs" style="stroke-width:0.25px">0.10</text>
<text x="472.5" y="278.9" font-size="9.6" text-anchor="middle" textLength="69.5" lengthAdjust="spacingAndGlyphs">Thrombin (U/mL)</text>
<rect x="435.9" y="186.1" width="8.8" height="6.5" fill="#c0463a"/>
<rect x="435.9" y="197" width="8.8" height="6.5" fill="#619250"/>
<text x="447.6" y="192.8" font-size="8" text-anchor="start" textLength="11.8" lengthAdjust="spacingAndGlyphs" style="stroke-width:0.1px">+/+</text>
<text x="447.6" y="202.6" font-size="8" text-anchor="start" textLength="8.2" lengthAdjust="spacingAndGlyphs" style="stroke-width:0.1px">-/-</text>
<rect x="436.55" y="232.75" width="8.7" height="23.25" fill="#c0463a" stroke="#a53a30" stroke-width="0.5"/>
<rect x="445.75" y="231.95" width="8.7" height="24.05000000000001" fill="#619250" stroke="#4d7a3e" stroke-width="0.5"/>
<rect x="440.40000000000003" y="230.8" width="1" height="1.9499999999999886" fill="#262626"/>
<rect x="438.50000000000006" y="230.8" width="4.8" height="1" fill="#262626"/>
<rect x="449.6" y="229.9" width="1" height="2.049999999999983" fill="#262626"/>
<rect x="447.70000000000005" y="229.9" width="4.8" height="1" fill="#262626"/>
<rect x="463.45" y="218.95" width="8.7" height="37.05000000000001" fill="#c0463a" stroke="#a53a30" stroke-width="0.5"/>
<rect x="472.65" y="218.95" width="8.7" height="37.05000000000001" fill="#619250" stroke="#4d7a3e" stroke-width="0.5"/>
<rect x="467.3" y="216.0" width="1" height="2.9499999999999886" fill="#262626"/>
<rect x="465.40000000000003" y="216.0" width="4.8" height="1" fill="#262626"/>
<rect x="476.5" y="217.4" width="1" height="1.549999999999983" fill="#262626"/>
<rect x="474.6" y="217.4" width="4.8" height="1" fill="#262626"/>
<rect x="490.45" y="206.35" width="8.7" height="49.650000000000006" fill="#c0463a" stroke="#a53a30" stroke-width="0.5"/>
<rect x="499.65" y="203.25" width="8.7" height="52.75" fill="#619250" stroke="#4d7a3e" stroke-width="0.5"/>
<rect x="494.3" y="204.9" width="1" height="1.4499999999999886" fill="#262626"/>
<rect x="492.40000000000003" y="204.9" width="4.8" height="1" fill="#262626"/>
<rect x="503.5" y="201.70000000000002" width="1" height="1.549999999999983" fill="#262626"/>
<rect x="501.6" y="201.70000000000002" width="4.8" height="1" fill="#262626"/>
<path transform="translate(468.0,210.8)" d="M0,-2V2M-1.75,-1L1.75,1M1.75,-1L-1.75,1" stroke="#1a1a1a" stroke-width="1.05" fill="none"/>
<path transform="translate(475.5,209.70000000000002)" d="M2.9,1.0C2.5,0.2 0.2,0.1 0.2,1.4C0.2,2.6 2.8,2.5 2.8,3.8C2.8,5.2 0.4,5.1 0,4.2M1.5,-0.4V0.4M1.5,4.8V5.6" stroke="#1a1a1a" stroke-width="1.05" fill="none"/>
<path transform="translate(495.0,199.8)" d="M0,-2V2M-1.75,-1L1.75,1M1.75,-1L-1.75,1" stroke="#1a1a1a" stroke-width="1.05" fill="none"/>
<text x="495.0" y="195.4" font-size="6.6" text-anchor="middle" style="fill:#808080;stroke:#808080;stroke-width:0.15px">@</text>
<path transform="translate(502.7,194.70000000000002)" d="M2.9,1.0C2.5,0.2 0.2,0.1 0.2,1.4C0.2,2.6 2.8,2.5 2.8,3.8C2.8,5.2 0.4,5.1 0,4.2M1.5,-0.4V0.4M1.5,4.8V5.6" stroke="#1a1a1a" stroke-width="1.05" fill="none"/>
<path transform="translate(502.4,186.0)" d="M1.25,0L0.75,4.6M2.55,0L2.05,4.6M0.2,1.55H3.3M0,3.1H3.1" stroke="#222" stroke-width="0.6" fill="none"/>
<rect x="0" y="1" width="520" height="1" fill="#bcbcbc"/>
<rect x="0" y="0" width="520" height="1" fill="#464646"/>
<rect x="518" y="0" width="1" height="289" fill="#909090"/>
<rect x="519" y="0" width="1" height="289" fill="#444"/>
<rect x="0" y="0" width="1" height="289" fill="#080808"/>
<rect x="0" y="288" width="520" height="1" fill="#080808"/>
</svg>
</div></body></html>
